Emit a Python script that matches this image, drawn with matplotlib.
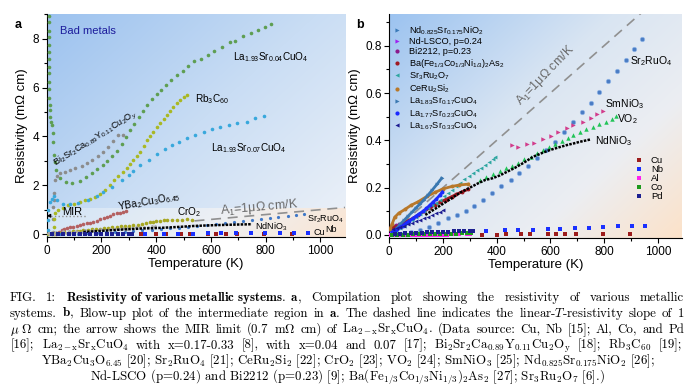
import numpy as np
import matplotlib
matplotlib.use('Agg')
import matplotlib.pyplot as plt
from matplotlib.colors import to_rgb
from matplotlib.lines import Line2D
from matplotlib.ticker import MultipleLocator

plt.rcParams['font.family'] = ['Liberation Sans', 'DejaVu Sans']
plt.rcParams['mathtext.fontset'] = 'custom'
plt.rcParams['mathtext.rm'] = 'Liberation Sans'
plt.rcParams['mathtext.it'] = 'Liberation Sans:italic'
plt.rcParams['mathtext.bf'] = 'Liberation Sans:bold'

# ---------------- panel a data (T in K, rho in mOhm cm) ----------------
la004_T = [7, 7, 7, 8, 8, 8, 8, 9, 9, 9, 10, 10, 11, 12, 13, 15, 18, 22, 22, 27, 30, 34, 49,
           70, 91, 122, 145, 165, 185, 206, 222, 238, 256, 274, 290, 305, 320, 338, 353, 368,
           386, 402, 417, 435, 454, 476, 498, 518, 539, 563, 588, 613, 640, 668, 689, 719,
           746, 771, 799, 820]
la004_r = [8.95, 8.68, 8.33, 8.09, 7.75, 7.47, 7.16, 6.86, 6.59, 6.24, 5.93, 5.56, 5.29, 5.08,
           4.81, 4.6, 4.47, 4.15, 3.78, 3.24, 2.96, 2.62, 2.28, 2.14, 2.10, 2.18, 2.33, 2.49,
           2.66, 2.83, 3.0, 3.2, 3.42, 3.7, 3.98, 4.25, 4.52, 4.81, 5.05, 5.29, 5.52, 5.74,
           5.9, 6.12, 6.31, 6.52, 6.69, 6.9, 7.09, 7.16, 7.36, 7.51, 7.65, 7.86, 7.91, 8.11,
           8.25, 8.36, 8.5, 8.6]

bi_T = [22, 23, 24, 25, 27, 30, 37, 49, 67, 85, 104, 128, 146, 165, 189, 207, 225, 244, 262, 280]
bi_r = [0.1, 0.6, 1.1, 1.4, 1.7, 2.2, 2.4, 2.51, 2.55, 2.62, 2.69, 2.8, 2.9, 3.03, 3.2, 3.37,
        3.58, 3.82, 4.05, 4.08]

rb_T = [27, 28, 28, 29, 42, 60, 79, 100, 122, 140, 159, 177, 195, 213, 232, 246, 262, 277, 292,
        305, 317, 329, 341, 354, 366, 378, 390, 403, 415, 427, 439, 451, 463, 476, 488, 500, 512]
rb_r = [0.02, 0.3, 0.6, 0.87, 0.98, 1.08, 1.19, 1.25, 1.32, 1.38, 1.45, 1.53, 1.65, 1.82, 2.0,
        2.2, 2.4, 2.55, 2.69, 2.86, 3.03, 3.2, 3.37, 3.6, 3.85, 4.02, 4.19, 4.37, 4.54, 4.71,
        4.88, 5.05, 5.22, 5.36, 5.49, 5.6, 5.7]

la007_T = [2, 3, 4, 6, 12, 18, 25, 37, 61, 85, 116, 152, 183, 207, 238, 274, 299, 317, 341, 372,
           402, 433, 457, 482, 512, 543, 573, 604, 634, 665, 695, 732, 762, 793]
la007_r = [0.02, 0.16, 0.57, 0.98, 1.32, 1.45, 1.55, 1.38, 1.23, 1.22, 1.26, 1.39, 1.56, 1.73,
           1.94, 2.21, 2.42, 2.6, 2.83, 3.03, 3.28, 3.47, 3.65, 3.78, 3.92, 4.06, 4.19, 4.29,
           4.4, 4.47, 4.54, 4.6, 4.74, 4.84]

ybco_T = [35, 45, 55, 64, 73, 85, 97, 110, 122, 134, 146, 159, 171, 183, 195, 208, 220, 232,
          244, 256, 268, 280, 290]
ybco_r = [0.02, 0.1, 0.16, 0.2, 0.23, 0.27, 0.3, 0.33, 0.37, 0.4, 0.44, 0.47, 0.5, 0.55, 0.6,
          0.65, 0.71, 0.76, 0.82, 0.85, 0.88, 0.92, 0.96]

cro2_T = [5, 20, 35, 49, 65, 80, 95, 110, 122, 134, 150, 165, 180, 195, 210, 225, 240, 256, 270,
          287, 300, 317, 332, 348, 362, 378, 390, 400, 414, 427, 439, 458, 476, 495, 512, 530]
cro2_r = [0.0, 0.01, 0.03, 0.05, 0.07, 0.09, 0.11, 0.13, 0.145, 0.16, 0.175, 0.19, 0.205, 0.22,
          0.24, 0.26, 0.28, 0.3, 0.315, 0.33, 0.35, 0.37, 0.39, 0.42, 0.45, 0.48, 0.5, 0.52,
          0.55, 0.56, 0.57, 0.58, 0.57, 0.59, 0.6, 0.57]

mir_limit = 0.75

# ---------------- panel b data ----------------
sr214_T = [20, 50, 80, 114, 149, 183, 217, 251, 285, 317, 350, 384, 417, 452, 484, 518, 551,
           584, 617, 651, 683, 716, 750, 782, 816, 847, 880, 910, 940]
sr214_r = [0.003, 0.006, 0.012, 0.021, 0.035, 0.052, 0.07, 0.085, 0.103, 0.124, 0.148, 0.179,
           0.205, 0.232, 0.261, 0.292, 0.325, 0.36, 0.394, 0.437, 0.478, 0.518, 0.559, 0.604,
           0.651, 0.694, 0.74, 0.785, 0.828]

smnio3_T = [456, 480, 512, 540, 571, 601, 629, 661, 685, 720, 750, 772, 795]
smnio3_r = [0.38, 0.371, 0.383, 0.39, 0.404, 0.418, 0.437, 0.451, 0.465, 0.479, 0.493, 0.511, 0.524]

vo2_T = [338, 360, 387, 412, 435, 456, 480, 503, 528, 549, 571, 596, 617, 642, 664, 685, 710,
         733, 758, 782, 807, 828, 845]
vo2_r = [0.232, 0.246, 0.258, 0.272, 0.282, 0.292, 0.303, 0.32, 0.331, 0.345, 0.359, 0.371,
         0.385, 0.399, 0.409, 0.423, 0.437, 0.447, 0.458, 0.469, 0.479, 0.489, 0.503]

ndnio3_T = [134, 170, 200, 232, 265, 300, 330, 356, 385, 412, 440, 468, 500, 536, 570, 598,
            630, 661, 690, 710, 730, 750]
ndnio3_r = [0.085, 0.11, 0.132, 0.155, 0.18, 0.2, 0.218, 0.232, 0.24, 0.252, 0.268, 0.284,
            0.305, 0.331, 0.347, 0.359, 0.37, 0.38, 0.388, 0.394, 0.399, 0.404]

ba_T = [5, 20, 34, 50, 70, 90, 108, 130, 150, 170, 190, 210, 232, 250, 270, 294]
ba_r = [0.03, 0.033, 0.037, 0.047, 0.06, 0.072, 0.085, 0.1, 0.114, 0.127, 0.139, 0.15, 0.162,
        0.172, 0.182, 0.193]

sr327_T = [10, 25, 40, 55, 70, 85, 100, 115, 130, 145, 160, 175, 190, 205, 220, 235, 250, 265,
           280, 295, 310, 325, 340, 355, 370, 385, 395]
sr327_r = [0.006, 0.017, 0.028, 0.04, 0.052, 0.064, 0.077, 0.088, 0.1, 0.112, 0.125, 0.137,
           0.15, 0.164, 0.178, 0.191, 0.205, 0.22, 0.235, 0.248, 0.262, 0.273, 0.285, 0.297,
           0.31, 0.32, 0.328]

ceru_T = [3, 10, 20, 35, 58, 80, 108, 140, 170, 200, 232, 260, 294]
ceru_r = [0.025, 0.045, 0.075, 0.092, 0.108, 0.125, 0.141, 0.163, 0.18, 0.195, 0.205, 0.211, 0.215]

la017_T = [15, 28, 40, 55, 70, 85, 100, 115, 130, 145, 160, 178, 195]
la017_r = [0.012, 0.028, 0.045, 0.062, 0.08, 0.097, 0.115, 0.132, 0.15, 0.17, 0.19, 0.215, 0.24]

la023_T = [10, 20, 30, 40, 50, 62, 75, 88, 100, 112, 125, 138, 150, 162, 175, 187, 198]
la023_r = [0.012, 0.018, 0.025, 0.032, 0.04, 0.05, 0.06, 0.07, 0.08, 0.09, 0.1, 0.112, 0.125,
           0.138, 0.152, 0.167, 0.182]

la033_T = [15, 27, 40, 55, 70, 85, 100, 115, 130, 145, 160, 175, 188, 200]
la033_r = [0.025, 0.029, 0.033, 0.039, 0.045, 0.051, 0.058, 0.064, 0.07, 0.077, 0.085, 0.093,
           0.099, 0.105]

ndnio2_T = [10, 20, 30, 40, 50, 60]
ndnio2_r = [0.032, 0.032, 0.034, 0.036, 0.038, 0.041]
ndlsco_T = [5, 15, 25, 35, 45]
ndlsco_r = [0.02, 0.025, 0.03, 0.035, 0.04]
bi2212_T = [5, 15, 25, 35]
bi2212_r = [0.03, 0.036, 0.042, 0.048]

cu_T = [345, 400, 435, 490, 525, 590, 620, 655, 695, 795, 895]
cu_r = [0.002, 0.002, 0.003, 0.003, 0.003, 0.004, 0.004, 0.004, 0.005, 0.005, 0.006]
nb_T = [360, 430, 480, 535, 590, 636, 691, 745, 797, 852, 903, 953]
nb_r = [0.017, 0.019, 0.021, 0.023, 0.025, 0.026, 0.028, 0.031, 0.033, 0.036, 0.038, 0.04]
al_T = [5, 20, 35, 50, 65, 80, 95, 110, 125, 140, 155, 170, 185, 200, 215, 230, 245, 260, 290, 300]
al_r = [0, 0, 0, 0, 0, 0.0003, 0.0005, 0.0007, 0.0009, 0.001, 0.0012, 0.0014, 0.0016, 0.0018,
        0.002, 0.0021, 0.0023, 0.0025, 0.0027, 0.0028]
co_T = [10, 30, 50, 70, 90, 110, 130, 150, 170, 190, 210, 230, 250, 270, 290, 305]
co_r = [0.001, 0.001, 0.002, 0.002, 0.003, 0.003, 0.004, 0.004, 0.005, 0.005, 0.005, 0.006,
        0.006, 0.007, 0.007, 0.008]
pd_T = [20, 40, 60, 80, 100, 120, 140, 160, 180, 200, 220, 240, 260, 280, 300, 310]
pd_r = [0.004, 0.006, 0.007, 0.008, 0.009, 0.01, 0.011, 0.012, 0.013, 0.013, 0.014, 0.015,
        0.015, 0.016, 0.016, 0.017]

slope = 0.001  # 1 uOhm cm / K in mOhm cm / K


def shade(ax, x0, x1, y0, y1, stops, wx=0.55, wy=0.45):
    u = np.linspace(0, 1, 200)
    X, Y = np.meshgrid(u, u)
    t = X * wx + Y * wy
    pos = [s[0] for s in stops]
    cols = np.array([to_rgb(s[1]) for s in stops])
    img = np.dstack([np.interp(t, pos, cols[:, k]) for k in range(3)])
    ax.imshow(img, extent=(x0, x1, y0, y1), origin='upper', aspect='auto',
              zorder=0, interpolation='bilinear')


def style(ax, xmaj, ymaj):
    for s in ['top', 'right']:
        ax.spines[s].set_visible(False)
    ax.xaxis.set_major_locator(MultipleLocator(xmaj))
    ax.xaxis.set_minor_locator(MultipleLocator(xmaj / 2))
    ax.yaxis.set_major_locator(MultipleLocator(ymaj))
    ax.yaxis.set_minor_locator(MultipleLocator(ymaj / 2))
    ax.tick_params(which='major', length=3.5, width=0.8, labelsize=8.5, pad=2)
    ax.tick_params(which='minor', length=2, width=0.8)
    ax.set_xlabel('Temperature (K)', fontsize=9.5, labelpad=1)
    ax.set_ylabel('Resistivity (m\u03a9 cm)', fontsize=9.5, labelpad=3)


def words(s):
    # split on spaces that are not inside $...$
    out, buf, inmath = [], '', False
    for ch in s:
        if ch == '$':
            inmath = not inmath
        if ch == ' ' and not inmath:
            out.append(buf)
            buf = ''
        else:
            buf += ch
    out.append(buf)
    return out


fig = plt.figure(figsize=(6.95, 3.86), dpi=100)
axa = fig.add_axes([46.7 / 695, 1 - 237 / 386, 298.3 / 695, 223 / 386])
axb = fig.add_axes([389.3 / 695, 1 - 238 / 386, 292.4 / 695, 224 / 386])

# ---------------- panel a ----------------
shade(axa, 0, 1090, -0.12, 9.02, [(0, '#9cc2ef'), (0.5, '#c9ddf4'), (1, '#eef2f8')])
shade(axa, 0, 1090, -0.12, 1.05, [(0, '#d2e4f6'), (0.55, '#edf0f4'), (1, '#fbe5d2')],
      wx=0.9, wy=0.1)

ms = 2.6
axa.plot(la004_T, la004_r, 'o', color='#5e9e52', ms=ms, mew=0, zorder=3)
axa.plot(bi_T, bi_r, 'o', color='#8c8c8c', ms=ms, mew=0, zorder=3)
axa.plot(rb_T, rb_r, 'o', color='#a9b823', ms=ms, mew=0, zorder=3)
axa.plot(la007_T, la007_r, 'o', color='#38a8dc', ms=ms, mew=0, zorder=3)
axa.plot(ybco_T, ybco_r, 'o', color='#b46060', ms=ms, mew=0, zorder=3)
axa.plot(cro2_T, cro2_r, 'o', color='#a6a620', ms=ms, mew=0, zorder=3)
axa.plot(sr327_T, sr327_r, 'o', color='#a8a8a8', ms=2, mew=0, zorder=3)
axa.plot(ceru_T, ceru_r, 'o', color='#a8a8a8', ms=2, mew=0, zorder=3)
axa.plot(sr214_T, sr214_r, 'o', color='#3f78c8', ms=2.3, mew=0, zorder=3)
axa.plot(ndnio3_T, ndnio3_r, color='k', ls=(0, (1, 0.5)), lw=1.8, zorder=3)
axa.plot(pd_T, pd_r, 's', color='#1c2090', ms=2.2, mew=0, zorder=3)
axa.plot(cu_T, cu_r, 's', color='#9c1c1c', ms=2.4, mew=0, zorder=3)
axa.plot(nb_T, nb_r, 's', color='#1a30ff', ms=2.4, mew=0, zorder=3)

Ta = np.array([540, 1090])
axa.plot(Ta, slope * Ta, color='#909090', ls=(0, (6, 4)), lw=1.2, zorder=2)
axa.plot([0, 145], [mir_limit, mir_limit], ls=':', color='#909090', lw=1, zorder=2)
axa.annotate('', xy=(0, mir_limit), xytext=(14, mir_limit),
             arrowprops=dict(arrowstyle='-|>', color='k', lw=0.8, mutation_scale=5),
             zorder=4, annotation_clip=False)

axa.text(49, 8.32, 'Bad metals', color='#1c1c9c', fontsize=8, va='center')
axa.text(682, 7.25, 'La$_{1.93}$Sr$_{0.04}$CuO$_4$', fontsize=7.2, va='center')
axa.text(543, 5.53, 'Rb$_3$C$_{60}$', fontsize=7.2, va='center')
axa.text(601, 3.52, 'La$_{1.93}$Sr$_{0.07}$CuO$_4$', fontsize=7.2, va='center')
axa.text(180, 3.9, 'Bi$_2$Sr$_2$Ca$_{0.89}$Y$_{0.11}$Cu$_2$O$_y$', fontsize=6.6,
         ha='center', va='center', rotation=32)
axa.text(257, 1.31, 'YBa$_2$Cu$_3$O$_{6.45}$', fontsize=7.2, va='center', rotation=10)
axa.text(477, 0.9, 'CrO$_2$', fontsize=7.2, va='center')
axa.text(56, 0.9, 'MIR', fontsize=8, va='center')
axa.text(777, 1.1, 'A$_1$=1\u03bc\u03a9 cm/K', fontsize=9, color='#6a6a6a',
         ha='center', va='center', rotation=5)
axa.text(952, 0.61, 'Sr$_2$RuO$_4$', fontsize=6.5, va='center')
axa.text(762, 0.29, 'NdNiO$_3$', fontsize=6.5, va='center')
axa.text(974, 0.06, 'Cu', fontsize=6.5, va='center')
axa.text(1018, 0.2, 'Nb', fontsize=6.5, va='center')

axa.set_xlim(0, 1090)
axa.set_ylim(-0.12, 9.02)
style(axa, 200, 2)

# ---------------- panel b ----------------
shade(axb, 0, 1089, -0.0127, 0.934,
      [(0, '#9cc3f0'), (0.42, '#d9e5f3'), (0.72, '#eceef2'), (1, '#fce2c9')])

Tb = np.array([0, 1089])
axb.plot(Tb, slope * Tb, color='#909090', ls=(0, (6, 4)), lw=1.2, zorder=2)

series_b = [
    (ndnio2_T, ndnio2_r, '>', '#3a7ab8', 'Nd$_{0.825}$Sr$_{0.175}$NiO$_2$', False),
    (ndlsco_T, ndlsco_r, '>', '#a020f0', 'Nd-LSCO, p=0.24', False),
    (bi2212_T, bi2212_r, 'o', '#8b1a8b', 'Bi2212, p=0.23', False),
    (ba_T, ba_r, 'o', '#a01a24', 'Ba(Fe$_{1/3}$Co$_{1/3}$Ni$_{1/3}$)$_2$As$_2$', True),
    (sr327_T, sr327_r, '<', '#2ea6a0', 'Sr$_3$Ru$_2$O$_7$', False),
    (ceru_T, ceru_r, 'o', '#b8782a', 'CeRu$_2$Si$_2$', True),
    (la017_T, la017_r, '>', '#3a78b0', 'La$_{1.83}$Sr$_{0.17}$CuO$_4$', True),
    (la023_T, la023_r, 'o', '#1a2aff', 'La$_{1.77}$Sr$_{0.23}$CuO$_4$', True),
    (la033_T, la033_r, '<', '#1a1a90', 'La$_{1.67}$Sr$_{0.33}$CuO$_4$', False),
]
handles = []
labels = []
for T, r, m, c, lab, dense in series_b:
    if dense:
        axb.plot(T, r, color=c, lw=2, zorder=3)
    axb.plot(T, r, m, color=c, ms=2.8, mew=0, zorder=3)
    handles.append(Line2D([], [], ls='none', marker=m, color=c, ms=3, mew=0))
    labels.append(lab)

axb.plot(sr214_T, sr214_r, 'o', color='#4a7cc4', mec='#8fb4e6', mew=0.5, ms=3.2, zorder=3)
axb.plot(smnio3_T, smnio3_r, '>', color='#d23c8c', ms=3.2, mew=0, zorder=3)
axb.plot(vo2_T, vo2_r, '^', color='#22c458', ms=3.2, mew=0, zorder=3)
axb.plot(ndnio3_T, ndnio3_r, color='k', ls=(0, (1, 0.5)), lw=1.8, zorder=3)

metals = [
    (cu_T, cu_r, '#9c1c1c', 'Cu'),
    (nb_T, nb_r, '#1a30ff', 'Nb'),
    (al_T, al_r, '#ff22ee', 'Al'),
    (co_T, co_r, '#1c9a1c', 'Co'),
    (pd_T, pd_r, '#1c2090', 'Pd'),
]
mh = []
ml = []
for T, r, c, lab in metals:
    axb.plot(T, r, 's', color=c, ms=2.6, mew=0, zorder=3)
    mh.append(Line2D([], [], ls='none', marker='s', color=c, ms=3, mew=0))
    ml.append(lab)

leg1 = axb.legend(handles, labels, loc='upper left', bbox_to_anchor=(0.015, 0.955),
                  frameon=False, fontsize=6.6, handlelength=0.8, handletextpad=0.9,
                  labelspacing=0.08, borderaxespad=0, borderpad=0)
axb.add_artist(leg1)
axb.legend(mh, ml, loc='upper left', bbox_to_anchor=(0.84, 0.365), frameon=False,
           fontsize=6.8, handlelength=0.8, handletextpad=0.9, labelspacing=0.0,
           borderaxespad=0, borderpad=0)

axb.text(896, 0.735, 'Sr$_2$RuO$_4$', fontsize=7.5, va='center')
axb.text(803, 0.554, 'SmNiO$_3$', fontsize=7.5, va='center')
axb.text(848, 0.49, 'VO$_2$', fontsize=7.5, va='center')
axb.text(766, 0.397, 'NdNiO$_3$', fontsize=7.5, va='center')
axb.text(580, 0.676, 'A$_1$=1\u03bc\u03a9 cm/K', fontsize=9, color='#6a6a6a',
         ha='center', va='center', rotation=46)

axb.set_xlim(0, 1089)
axb.set_ylim(-0.0127, 0.934)
style(axb, 200, 0.2)

fig.text(18 / 695, 1 - 25 / 386, 'a', fontsize=9, fontweight='bold', ha='center', va='center')
fig.text(360 / 695, 1 - 25 / 386, 'b', fontsize=9, fontweight='bold', ha='center', va='center')

# ---------------- caption ----------------
caption = [
    r"FIG. 1: $\mathbf{Resistivity\ of\ various\ metallic\ systems.\ a}$, Compilation plot showing the resistivity of various metallic",
    r"systems. $\mathbf{b}$, Blow-up plot of the intermediate region in $\mathbf{a}$. The dashed line indicates the linear-$T$-resistivity slope of 1",
    r"$\mu\ \Omega$ cm; the arrow shows the MIR limit (0.7 m$\Omega$ cm) of La$_{\mathrm{2-x}}$Sr$_{\mathrm{x}}$CuO$_4$. (Data source: Cu, Nb [15]; Al, Co, and Pd",
    r"[16]; La$_{\mathrm{2-x}}$Sr$_{\mathrm{x}}$CuO$_4$ with x=0.17-0.33 [8], with x=0.04 and 0.07 [17]; Bi$_2$Sr$_2$Ca$_{0.89}$Y$_{0.11}$Cu$_2$O$_{\mathrm{y}}$ [18]; Rb$_3$C$_{60}$ [19];",
    r"YBa$_2$Cu$_3$O$_{6.45}$ [20]; Sr$_2$RuO$_4$ [21]; CeRu$_2$Si$_2$ [22]; CrO$_2$ [23]; VO$_2$ [24]; SmNiO$_3$ [25]; Nd$_{0.825}$Sr$_{0.175}$NiO$_2$ [26];",
    r"Nd-LSCO (p=0.24) and Bi2212 (p=0.23) [9]; Ba(Fe$_{1/3}$Co$_{1/3}$Ni$_{1/3}$)$_2$As$_2$ [27]; Sr$_3$Ru$_2$O$_7$ [6].)",
]
# lines 1-4 are justified between x0 and x1 (pixels), the last two are centred
justify = [(10, 684), (10, 684), (10, 684), (11, 682), None, None]
cap_fs = 9.3
W, H = 695.0, 386.0
renderer = fig.canvas.get_renderer()
for i, line in enumerate(caption):
    ybase = 1 - (301 + 15.9 * i) / H
    span = justify[i]
    if span is None:
        fig.text(0.5, ybase, line, ha='center', va='baseline', fontsize=cap_fs,
                 family='cmr10', math_fontfamily='cm')
        continue
    parts = [fig.text(0, ybase, w, ha='left', va='baseline', fontsize=cap_fs,
                      family='cmr10', math_fontfamily='cm') for w in words(line)]
    widths = [p.get_window_extent(renderer).width for p in parts]
    gap = (span[1] - span[0] - sum(widths)) / (len(parts) - 1)
    x = span[0]
    for p, w in zip(parts, widths):
        p.set_x(x / W)
        x += w + gap

fig.savefig('out.png', dpi=100)
